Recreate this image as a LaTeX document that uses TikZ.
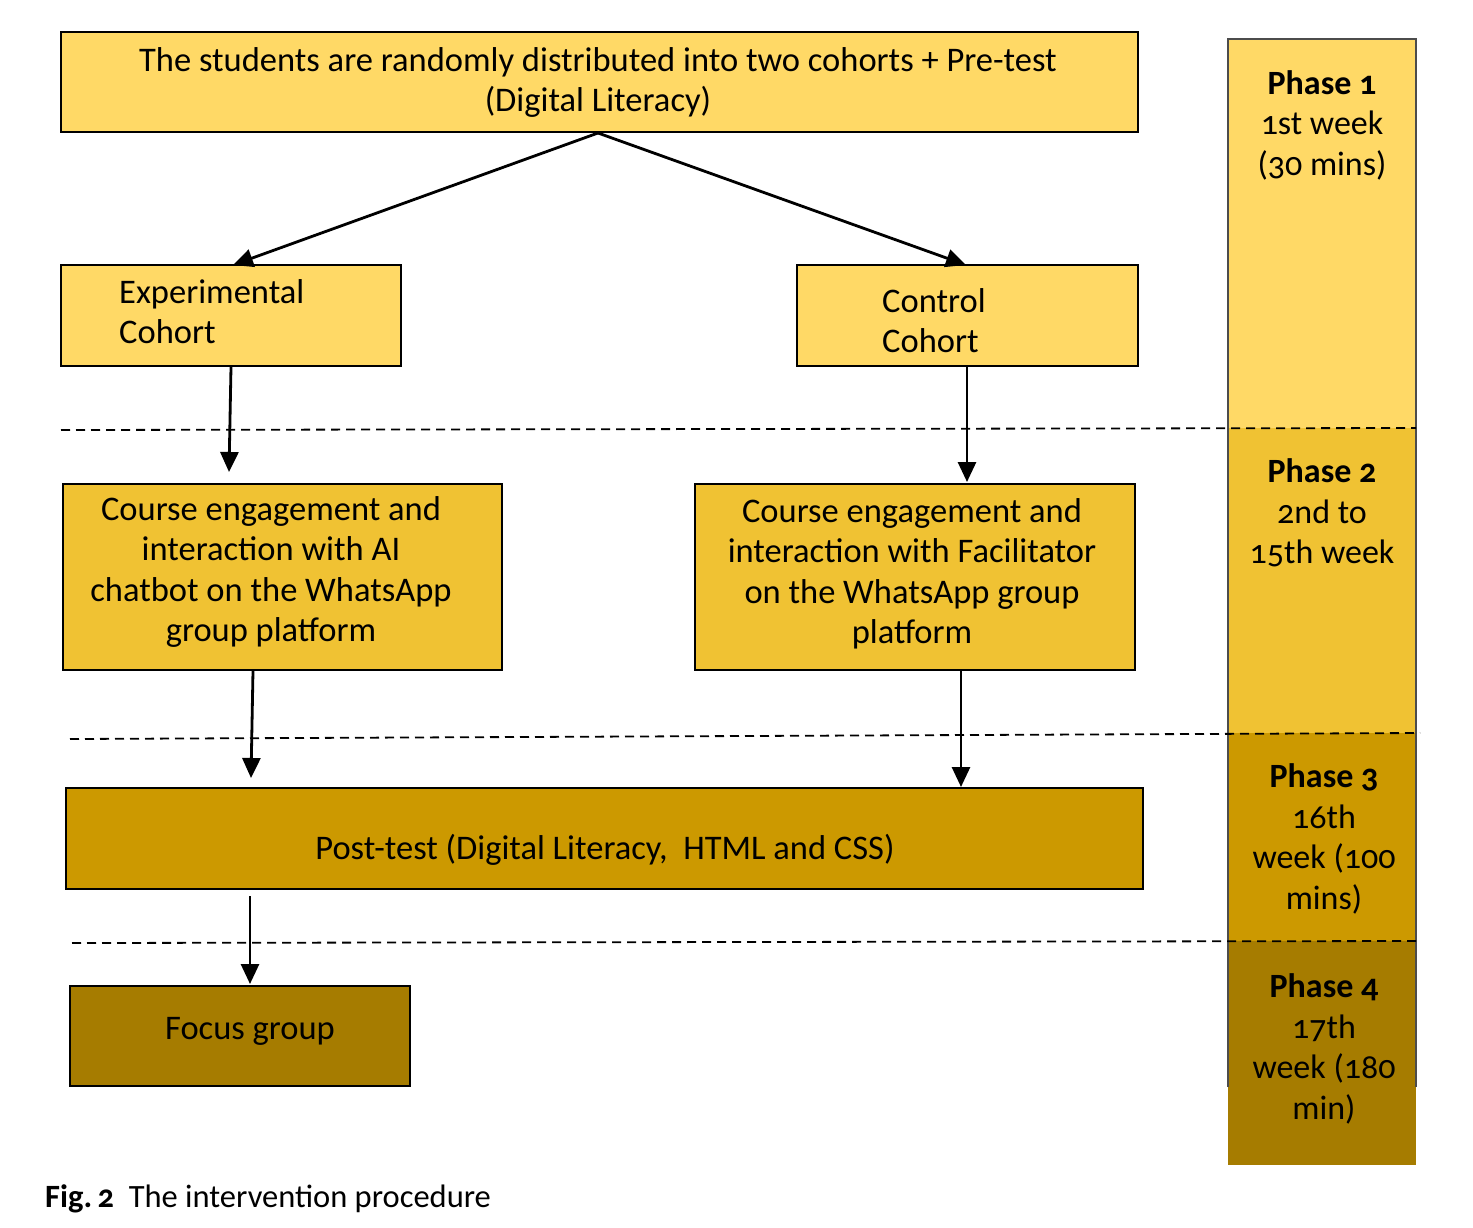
\documentclass[tikz,border=0pt]{standalone}
\usepackage{fontspec}
\setmainfont{Carlito}[Numbers=OldStyle]
\usetikzlibrary{arrows.meta}
\definecolor{cLight}{HTML}{FFD966}
\definecolor{cMid}{HTML}{F0C233}
\definecolor{cDark}{HTML}{CC9900}
\definecolor{cDeep}{HTML}{A67C00}
\tikzset{
  box/.style={draw=black, line width=2.2pt, inner sep=0pt},
  txt/.style={inner sep=0pt, font=\fontsize{34.5}{40.5}\selectfont},
  arr/.style={line width=2.8pt, -{Triangle[length=20pt,width=18pt]}},
  sep/.style={line width=1.8pt, dash pattern=on 9pt off 6pt},
  phasetxt/.style={align=center, font=\fontsize{34}{40.5}\selectfont, inner sep=0pt},
}
\begin{document}
\begin{tikzpicture}[x=1pt,y=-1pt]
\useasboundingbox (0,0) rectangle (1473,1227);
% phase column
\fill[cLight] (1228,39) rectangle (1416,428);
\fill[cMid] (1228,428) rectangle (1416,733);
\fill[cDark] (1228,733) rectangle (1416,941);
\fill[cDeep] (1228,941) rectangle (1416,1165);
\draw[line width=1.2pt, black!70] (1228,1087) -- (1228,39) -- (1416,39) -- (1416,1087);
\node[phasetxt] (p1) at (1322,125) {\textbf{Phase 1}\\1st week\\(30 mins)};
\node[phasetxt] (p2) at (1322,513) {\textbf{Phase 2}\\2nd to\\15th week};
\node[phasetxt] (p3) at (1324,839) {\textbf{Phase 3}\\16th\\week (100\\mins)};
\node[phasetxt] (p4) at (1324,1049) {\textbf{Phase 4}\\17th\\week (180\\min)};
% dashed separators
\coordinate (d1a) at (61,430); \coordinate (d1b) at (1416,428);
\coordinate (d2a) at (70,739); \coordinate (d2b) at (1420,733);
\coordinate (d3a) at (72,943); \coordinate (d3b) at (1420,941);
\draw[sep] (d1a) -- (d1b);
\draw[sep] (d2a) -- (d2b);
\draw[sep] (d3a) -- (d3b);
% boxes
\node[box, fill=cLight, minimum width=1077pt, minimum height=100pt] (top) at (599.5,82) {};
\node[box, fill=cLight, minimum width=340pt, minimum height=101pt] (exp) at (231,315.5) {};
\node[box, fill=cLight, minimum width=341pt, minimum height=101pt] (ctl) at (967.5,315.5) {};
\node[box, fill=cMid, minimum width=439pt, minimum height=186pt] (ai) at (282.5,577) {};
\node[box, fill=cMid, minimum width=440pt, minimum height=186pt] (fac) at (915,577) {};
\node[box, fill=cDark, minimum width=1077pt, minimum height=101pt] (post) at (604.5,838.5) {};
\node[box, fill=cDeep, minimum width=340pt, minimum height=100pt] (focus) at (240,1036) {};
% texts
\node[txt, align=center] (topT) at (598,82.5) {The students are randomly distributed into two cohorts + Pre-test\\(Digital Literacy)};
\node[txt, align=left, anchor=west] (expT) at (119,311.5) {Experimental\\Cohort};
\node[txt, align=left, anchor=west] (ctlT) at (882,320.5) {Control\\Cohort};
\node[txt, align=center] (aiT) at (271,572) {Course engagement and\\interaction with AI\\chatbot on the WhatsApp\\group platform};
\node[txt, align=center] (facT) at (912,574) {Course engagement and\\interaction with Facilitator\\on the WhatsApp group\\platform};
\node[txt] (postT) at (605,849.5) {Post-test (Digital Literacy,\ \ HTML and CSS)};
\node[txt] (focusT) at (250,1031) {Focus group};
% arrows
\coordinate (e1) at (233,265); \coordinate (e2) at (966,265);
\coordinate (s1) at (598,133);
\draw[arr] (s1) -- (e1);
\draw[arr] (s1) -- (e2);
\coordinate (a1) at (231,367); \coordinate (a2) at (229,472);
\draw[arr] (a1) -- (a2);
\coordinate (b1) at (967,367); \coordinate (b2) at (967,482);
\draw[arr] (b1) -- (b2);
\coordinate (c1) at (253,671); \coordinate (c2) at (251,778);
\draw[arr] (c1) -- (c2);
\coordinate (f1) at (961,671); \coordinate (f2) at (961,787);
\draw[arr] (f1) -- (f2);
\coordinate (g1) at (250,896); \coordinate (g2) at (250,984);
\draw[arr] (g1) -- (g2);
% caption
\node[anchor=base west, inner sep=0pt, font=\fontsize{32.5}{38}\selectfont] (cap) at (45,1207) {\textbf{Fig.\,2}\ \ The intervention procedure};
\end{tikzpicture}
\end{document}
